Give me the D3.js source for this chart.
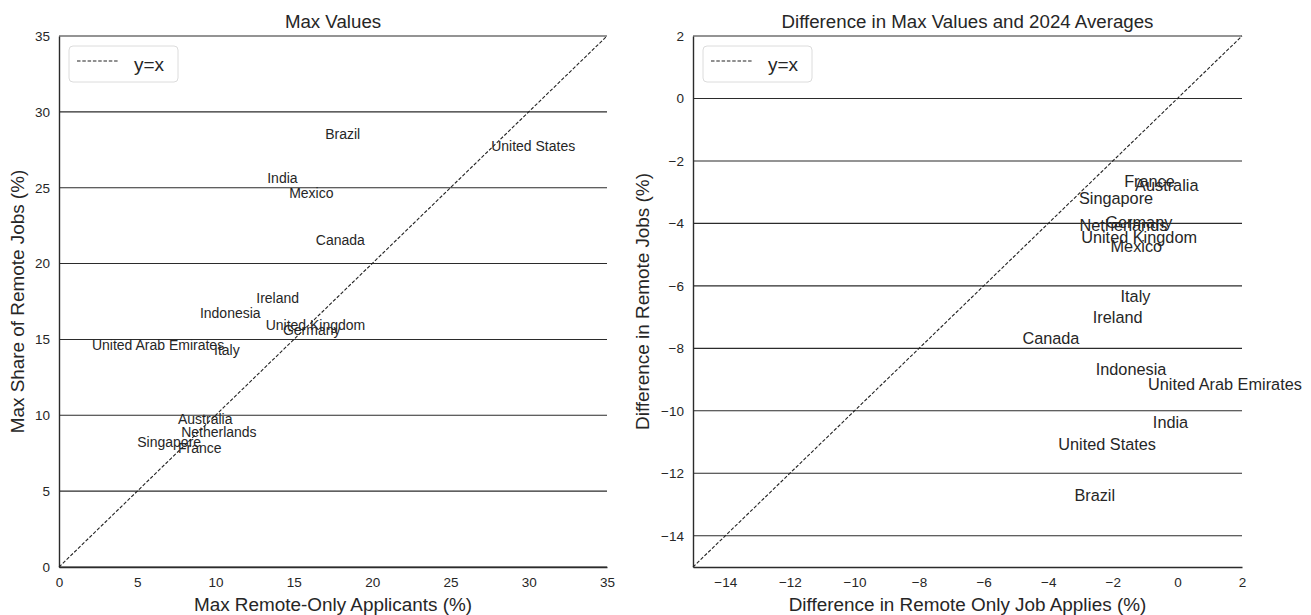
<!DOCTYPE html>
<html>
<head>
<meta charset="utf-8">
<script src="https://d3js.org/d3.v7.min.js"></script>
<style>
    body { margin: 0; background: #fff; }
    svg text { font-family: "Liberation Sans", Arial, sans-serif; fill: #262626; }
    .tick text { font-size: 13.5px; }
    .lab { font-size: 14px; }
    .lab2 { font-size: 16.3px; }
</style>
</head>
<body>
<svg width="1311" height="615"></svg>
<script>
// country labels, placed at (x, y) like ax.text
var countries = ["Brazil", "United States", "India", "Mexico", "Canada", "Ireland", "Indonesia",
    "United Kingdom", "Germany", "United Arab Emirates", "Italy", "Australia", "Netherlands",
    "Singapore", "France"];

// left panel: max values
var maxApplicants = [17.0, 27.6, 13.3, 14.7, 16.4, 12.6, 9.0, 13.2, 14.3, 2.1, 9.9, 7.6, 7.8, 5.0, 7.6];
var maxRemoteJobs = [28.2, 27.4, 25.3, 24.3, 21.2, 17.4, 16.4, 15.6, 15.3, 14.3, 14.0, 9.4, 8.6, 7.9, 7.5];

// right panel: difference between max and 2024 average
var diffApplies = [-3.19, -3.69, -0.76, -2.07, -4.8, -2.62, -2.53, -2.98, -2.23, -0.91, -1.76, -1.31, -3.03, -3.05, -1.65];
var diffJobs = [-12.89, -11.25, -10.54, -4.92, -7.86, -7.18, -8.85, -4.64, -4.16, -9.34, -6.52, -2.95, -4.24, -3.39, -2.84];

var leftXTicks = [0, 5, 10, 15, 20, 25, 30, 35];
var leftYTicks = [0, 5, 10, 15, 20, 25, 30, 35];
var rightXTicks = [-14, -12, -10, -8, -6, -4, -2, 0, 2];
var rightYTicks = [-14, -12, -10, -8, -6, -4, -2, 0, 2];

var svg = d3.select("svg");
var plotTop = 36, plotBottom = 567;

function panel(opt) {
    var x = d3.scaleLinear().domain(opt.domain).range([opt.left, opt.right]);
    var y = d3.scaleLinear().domain(opt.domain).range([plotBottom, plotTop]);
    var g = svg.append("g");

    // horizontal grid lines
    g.selectAll(".grid")
        .data(opt.yTicks)
      .enter().append("line")
        .attr("x1", opt.left).attr("x2", opt.right)
        .attr("y1", d => y(d)).attr("y2", d => y(d))
        .attr("stroke", "#2b2b2b").attr("stroke-width", 1.1);

    // axes, no tick marks
    var xAxis = g.append("g")
        .attr("transform", "translate(0," + plotBottom + ")")
        .call(d3.axisBottom(x).tickValues(opt.xTicks).tickSize(0).tickPadding(10).tickFormat(opt.fmt));
    var yAxis = g.append("g")
        .attr("transform", "translate(" + opt.left + ",0)")
        .call(d3.axisLeft(y).tickValues(opt.yTicks).tickSize(0).tickPadding(9).tickFormat(opt.fmt));
    xAxis.select(".domain").attr("stroke", "#2b2b2b").attr("stroke-width", 1.4);
    yAxis.select(".domain").attr("stroke", "#2b2b2b").attr("stroke-width", 1.4);
    g.selectAll(".tick text").attr("fill", "#262626");

    // y = x reference
    g.append("line")
        .attr("x1", x(opt.domain[0])).attr("y1", y(opt.domain[0]))
        .attr("x2", x(opt.domain[1])).attr("y2", y(opt.domain[1]))
        .attr("stroke", "#222").attr("stroke-width", 1.1)
        .attr("stroke-dasharray", "3.5,1.8");

    // labels
    g.selectAll(".lbl")
        .data(countries)
      .enter().append("text")
        .attr("class", opt.cls)
        .attr("x", (d, i) => x(opt.xs[i]))
        .attr("y", (d, i) => y(opt.ys[i]))
        .text(d => d);

    // title and axis labels
    var cx = (opt.left + opt.right) / 2;
    g.append("text").attr("x", cx).attr("y", 28).attr("text-anchor", "middle")
        .style("font-size", "18.7px").text(opt.title);
    g.append("text").attr("x", cx).attr("y", 611).attr("text-anchor", "middle")
        .style("font-size", "18.9px").text(opt.xLabel);
    g.append("text")
        .attr("transform", "translate(" + (opt.left - opt.yLabOff) + "," + ((plotTop + plotBottom) / 2) + ") rotate(-90)")
        .attr("text-anchor", "middle")
        .style("font-size", "18.9px").text(opt.yLabel);

    // legend
    var lx = opt.left + 10, ly = 46;
    g.append("rect").attr("x", lx).attr("y", ly).attr("width", 109).attr("height", 36)
        .attr("rx", 4).attr("fill", "#fff").attr("stroke", "#dcdcdc");
    g.append("line").attr("x1", lx + 8).attr("x2", lx + 50).attr("y1", ly + 15).attr("y2", ly + 15)
        .attr("stroke", "#222").attr("stroke-width", 1.1).attr("stroke-dasharray", "3.5,1.8");
    g.append("text").attr("x", lx + 65).attr("y", ly + 25)
        .style("font-size", "19px").text("y=x");
}

panel({
    left: 59, right: 607, domain: [0, 35],
    xTicks: leftXTicks, yTicks: leftYTicks, fmt: d3.format("d"),
    xs: maxApplicants, ys: maxRemoteJobs, cls: "lab",
    title: "Max Values",
    xLabel: "Max Remote-Only Applicants (%)",
    yLabel: "Max Share of Remote Jobs (%)", yLabOff: 35
});

panel({
    left: 693, right: 1242, domain: [-15, 2],
    xTicks: rightXTicks, yTicks: rightYTicks, fmt: d => d3.format("d")(d).replace("-", "\u2212"),
    xs: diffApplies, ys: diffJobs, cls: "lab2",
    title: "Difference in Max Values and 2024 Averages",
    xLabel: "Difference in Remote Only Job Applies (%)",
    yLabel: "Difference in Remote Jobs (%)", yLabOff: 44
});
</script>
</body>
</html>
